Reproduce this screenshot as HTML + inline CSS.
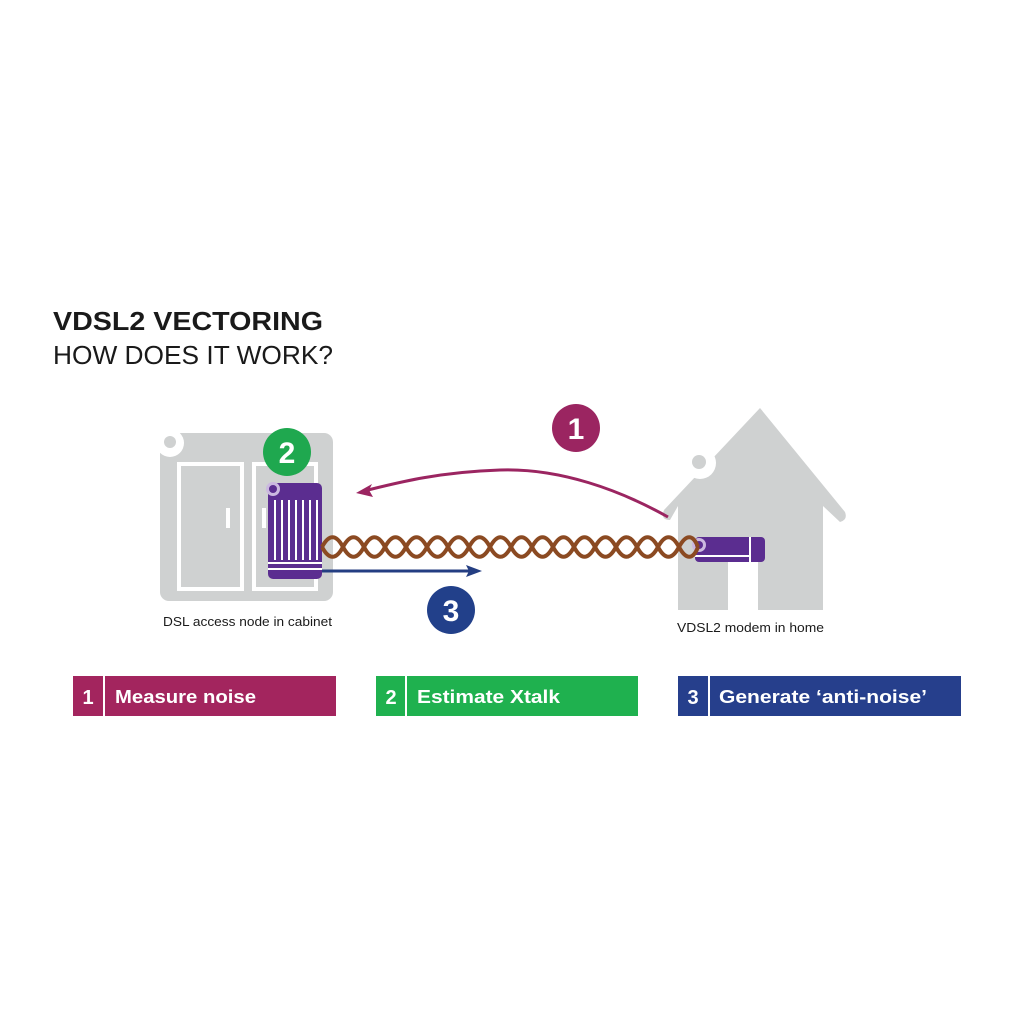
<!DOCTYPE html>
<html><head><meta charset="utf-8"><style>
body{margin:0;background:#fff;}
svg{display:block}
text{font-family:"Liberation Sans","DejaVu Sans",sans-serif}
</style></head><body>
<svg width="1024" height="1024" viewBox="0 0 1024 1024" xmlns="http://www.w3.org/2000/svg">
<rect width="1024" height="1024" fill="#fff"/>
<text x="53" y="330" font-size="26" font-weight="bold" fill="#1a1a1a" textLength="270" lengthAdjust="spacingAndGlyphs">VDSL2 VECTORING</text>
<text x="53" y="364" font-size="26" fill="#1a1a1a" textLength="280" lengthAdjust="spacingAndGlyphs">HOW DOES IT WORK?</text>

<!-- cabinet -->
<rect x="160" y="433" width="173" height="168" rx="9" fill="#cfd1d1"/>
<circle cx="170" cy="443" r="14" fill="#fff"/>
<circle cx="170" cy="442" r="6" fill="#cfd1d1"/>
<rect x="179" y="464" width="63" height="125" fill="none" stroke="#fff" stroke-width="4"/>
<rect x="254" y="464" width="62" height="125" fill="none" stroke="#fff" stroke-width="4"/>
<rect x="226" y="508" width="4" height="20" fill="#fff"/>
<rect x="262" y="508" width="4" height="20" fill="#fff"/>

<!-- device -->
<rect x="268" y="483" width="54" height="96" rx="5" fill="#5b2d90"/>
<circle cx="273" cy="489" r="7" fill="#cbb8e0"/>
<circle cx="273" cy="489" r="4" fill="#5b2d90"/>
<g stroke="#fff" stroke-width="2">
<line x1="275" y1="500" x2="275" y2="560"/><line x1="282" y1="500" x2="282" y2="560"/>
<line x1="289" y1="500" x2="289" y2="560"/><line x1="296" y1="500" x2="296" y2="560"/>
<line x1="303" y1="500" x2="303" y2="560"/><line x1="310" y1="500" x2="310" y2="560"/>
<line x1="317" y1="500" x2="317" y2="560"/>
<line x1="268" y1="563" x2="322" y2="563"/><line x1="268" y1="569" x2="322" y2="569"/>
</g>
<circle cx="287" cy="452" r="24" fill="#1fa84f"/>
<text x="287" y="463" font-size="30" font-weight="bold" fill="#fff" text-anchor="middle">2</text>

<!-- house -->
<path d="M760 408 L845 512 Q848 520 840 522 L823 506 L823 610 L678 610 L678 506 L670 520 Q660 520 664 510 Z" fill="#cfd1d1"/>
<circle cx="700" cy="463" r="16" fill="#fff"/>
<circle cx="699" cy="462" r="7" fill="#cfd1d1"/>
<rect x="728" y="562" width="30" height="48" fill="#fff"/>
<rect x="695" y="537" width="70" height="25" rx="4" fill="#5b2d90"/>
<line x1="695" y1="556" x2="750" y2="556" stroke="#fff" stroke-width="2"/>
<line x1="750" y1="537" x2="750" y2="562" stroke="#fff" stroke-width="2"/>
<circle cx="699" cy="545" r="7" fill="#cbb8e0"/>
<circle cx="699" cy="545" r="4" fill="#5b2d90"/>

<!-- twisted pair -->
<path fill="none" stroke="#8b4a22" stroke-width="4" d="M322 547 C329 534,336 534,343 547 S357 560,364 547 S378 534,385 547 S399 560,406 547 S420 534,427 547 S441 560,448 547 S462 534,469 547 S483 560,490 547 S504 534,511 547 S525 560,532 547 S546 534,553 547 S567 560,574 547 S588 534,595 547 S609 560,616 547 S630 534,637 547 S651 560,658 547 S672 534,679 547 S693 560,698 547"/>
<path fill="none" stroke="#8b4a22" stroke-width="4" d="M322 547 C329 560,336 560,343 547 S357 534,364 547 S378 560,385 547 S399 534,406 547 S420 560,427 547 S441 534,448 547 S462 560,469 547 S483 534,490 547 S504 560,511 547 S525 534,532 547 S546 560,553 547 S567 534,574 547 S588 560,595 547 S609 534,616 547 S630 560,637 547 S651 534,658 547 S672 560,679 547 S693 534,698 547"/>

<!-- arrow 3 -->
<line x1="322" y1="571" x2="470" y2="571" stroke="#243e82" stroke-width="3"/>
<path d="M482 571 L466 565 L469 571 L466 577 Z" fill="#243e82"/>
<circle cx="451" cy="610" r="24" fill="#22408a"/>
<text x="451" y="621" font-size="30" font-weight="bold" fill="#fff" text-anchor="middle">3</text>

<!-- arrow 1 -->
<path d="M668 517 C620 490,560 468,500 470 C440 472,400 482,368 490" fill="none" stroke="#9b2561" stroke-width="3"/>
<path d="M356 493 L372 484 L369 490 L373 497 Z" fill="#9b2561"/>
<circle cx="576" cy="428" r="24" fill="#9b2561"/>
<text x="576" y="439" font-size="30" font-weight="bold" fill="#fff" text-anchor="middle">1</text>

<text x="163" y="626" font-size="13" fill="#1a1a1a" textLength="169" lengthAdjust="spacingAndGlyphs">DSL access node in cabinet</text>
<text x="677" y="632" font-size="13" fill="#1a1a1a" textLength="147" lengthAdjust="spacingAndGlyphs">VDSL2 modem in home</text>

<!-- bars -->
<rect x="73" y="676" width="263" height="40" fill="#a3255e"/>
<rect x="103" y="676" width="2" height="40" fill="#fff"/>
<text x="88" y="704" font-size="20" font-weight="bold" fill="#fff" text-anchor="middle">1</text>
<text x="115" y="703" font-size="18" font-weight="bold" fill="#fff" textLength="141" lengthAdjust="spacingAndGlyphs">Measure noise</text>

<rect x="376" y="676" width="262" height="40" fill="#1fb14f"/>
<rect x="405" y="676" width="2" height="40" fill="#fff"/>
<text x="391" y="704" font-size="20" font-weight="bold" fill="#fff" text-anchor="middle">2</text>
<text x="417" y="703" font-size="18" font-weight="bold" fill="#fff" textLength="143" lengthAdjust="spacingAndGlyphs">Estimate Xtalk</text>

<rect x="678" y="676" width="283" height="40" fill="#263f8c"/>
<rect x="708" y="676" width="2" height="40" fill="#fff"/>
<text x="693" y="704" font-size="20" font-weight="bold" fill="#fff" text-anchor="middle">3</text>
<text x="719" y="703" font-size="18" font-weight="bold" fill="#fff" textLength="208" lengthAdjust="spacingAndGlyphs">Generate ‘anti-noise’</text>
</svg>
</body></html>
